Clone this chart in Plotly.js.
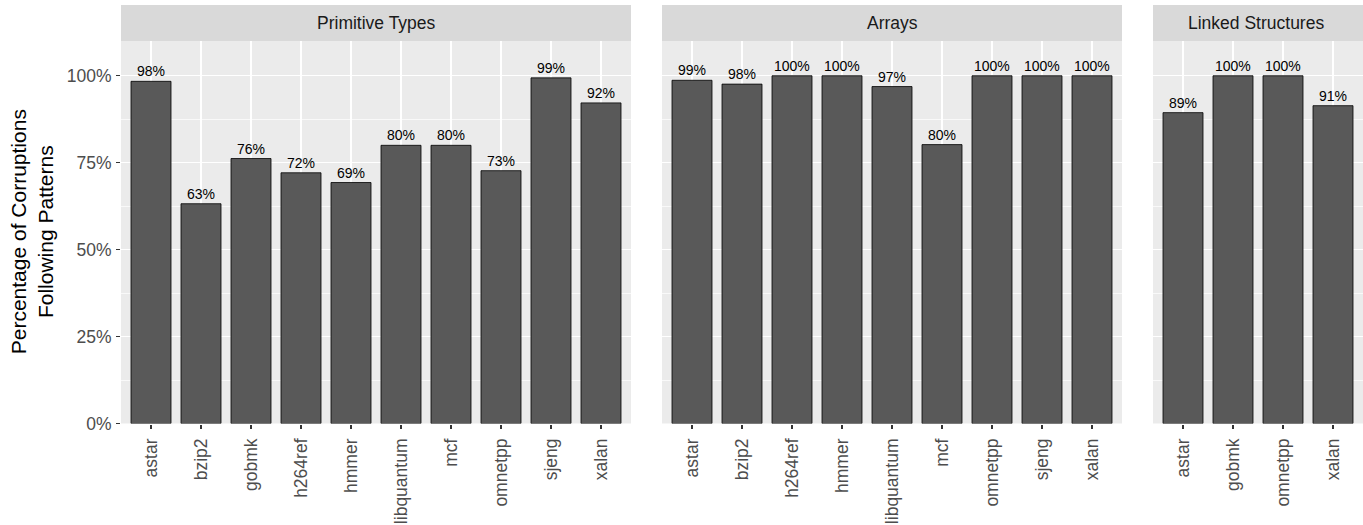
<!DOCTYPE html>
<html>
<head>
<meta charset="utf-8">
<script src="https://cdn.plot.ly/plotly-3.0.1.min.js"></script>
<style>
  html, body { margin: 0; padding: 0; background: #ffffff; }
  #chart { width: 1363px; height: 525px; }
</style>
</head>
<body>
<div id="chart"></div>
<script>
// Share of corruptions that follow a known pattern, per benchmark and data-structure kind
const panelTitles = ['Primitive Types', 'Arrays', 'Linked Structures'];

const categoriesPrimitive = ['astar', 'bzip2', 'gobmk', 'h264ref', 'hmmer', 'libquantum', 'mcf', 'omnetpp', 'sjeng', 'xalan'];
const valuesPrimitive = [98.4, 63.2, 76.2, 72.1, 69.3, 80.0, 80.0, 72.7, 99.4, 92.2];

const categoriesArrays = ['astar', 'bzip2', 'h264ref', 'hmmer', 'libquantum', 'mcf', 'omnetpp', 'sjeng', 'xalan'];
const valuesArrays = [98.7, 97.6, 100, 100, 96.9, 80.2, 100, 100, 100];

const categoriesLinked = ['astar', 'gobmk', 'omnetpp', 'xalan'];
const valuesLinked = [89.4, 100, 100, 91.4];

const yTickValues = [0, 25, 50, 75, 100];
const yTickLabels = ['0%', '25%', '50%', '75%', '100%'];
const yMinorValues = [12.5, 37.5, 62.5, 87.5];

// Page geometry (pixels)
const W = 1363, H = 525;
const FONT = 'Liberation Sans, Arial, Helvetica, sans-serif';
const plotTop = 41, plotBottom = 423.5, stripTop = 5;
const fx = p => p / W;
const fy = p => 1 - p / H;

const panels = [
  { cats: categoriesPrimitive, vals: valuesPrimitive, x0: 121, x1: 631, range: [-0.6, categoriesPrimitive.length - 0.4] },
  { cats: categoriesArrays, vals: valuesArrays, x0: 662, x1: 1122, range: [-0.6, categoriesArrays.length - 0.4] },
  { cats: categoriesLinked, vals: valuesLinked, x0: 1153, x1: 1363, range: [-0.6, 3.6] }
];

const traces = [];
const annotations = [];
const shapes = [];
const layout = {
  width: W, height: H,
  margin: { l: 0, r: 0, t: 0, b: 0 },
  paper_bgcolor: '#ffffff',
  plot_bgcolor: '#EBEBEB',
  showlegend: false,
  font: { family: FONT, color: '#000000' },
  bargap: 0.2
};

panels.forEach((p, i) => {
  const k = i === 0 ? '' : String(i + 1);
  const xRef = 'x' + k, yRef = 'y' + k;

  traces.push({
    type: 'bar',
    x: p.cats,
    y: p.vals,
    xaxis: xRef,
    yaxis: yRef,
    width: 0.8,
    marker: { color: '#595959', line: { color: '#000000', width: 0.8 } },
    hoverinfo: 'x+y'
  });

  layout['xaxis' + k] = {
    domain: [fx(p.x0), fx(p.x1)],
    anchor: yRef,
    type: 'category',
    categoryorder: 'array',
    categoryarray: p.cats,
    range: p.range,
    fixedrange: true,
    showgrid: true,
    gridcolor: '#ffffff',
    gridwidth: 1.4,
    zeroline: false,
    showline: false,
    ticks: 'outside',
    ticklen: 4,
    tickwidth: 1.1,
    tickcolor: '#333333',
    tickangle: -90,
    ticklabelstandoff: 3,
    tickfont: { family: FONT, size: 17.5, color: '#4D4D4D' },
    automargin: false
  };

  layout['yaxis' + k] = {
    domain: [fy(plotBottom), fy(plotTop)],
    anchor: xRef,
    range: [0, 110],
    fixedrange: true,
    tickmode: 'array',
    tickvals: yTickValues,
    ticktext: yTickLabels,
    showticklabels: i === 0,
    ticks: i === 0 ? 'outside' : '',
    ticklen: 4,
    tickwidth: 1.1,
    tickcolor: '#333333',
    ticklabelstandoff: 1,
    tickfont: { family: FONT, size: 17.5, color: '#4D4D4D' },
    showgrid: true,
    gridcolor: '#ffffff',
    gridwidth: 1.4,
    minor: { tickmode: 'array', tickvals: yMinorValues, showgrid: true, gridcolor: '#ffffff', gridwidth: 0.7, ticks: '' },
    zeroline: false,
    showline: false,
    automargin: false
  };

  // value labels above each bar
  p.cats.forEach((c, j) => {
    annotations.push({
      xref: xRef, yref: yRef,
      x: c, y: p.vals[j],
      text: Math.round(p.vals[j]) + '%',
      showarrow: false,
      yanchor: 'bottom',
      yshift: 0,
      font: { family: FONT, size: 14, color: '#000000' }
    });
  });

  // facet strip
  shapes.push({
    type: 'rect', xref: 'paper', yref: 'paper',
    x0: fx(p.x0), x1: fx(p.x1), y0: fy(plotTop), y1: fy(stripTop),
    fillcolor: '#D9D9D9', line: { width: 0 }, layer: 'below'
  });
  annotations.push({
    xref: 'paper', yref: 'paper',
    x: fx((p.x0 + (i === 2 ? 1358 : p.x1)) / 2), y: fy((plotTop + stripTop) / 2),
    text: panelTitles[i],
    showarrow: false,
    xanchor: 'center', yanchor: 'middle',
    font: { family: FONT, size: 17.5, color: '#1A1A1A' }
  });
});

// y axis title (two lines)
annotations.push({
  xref: 'paper', yref: 'paper',
  x: fx(32), y: fy((plotTop + plotBottom) / 2),
  text: 'Percentage of Corruptions<br>Following Patterns',
  showarrow: false,
  textangle: -90,
  xanchor: 'center', yanchor: 'middle',
  font: { family: FONT, size: 21, color: '#000000' }
});

layout.annotations = annotations;
layout.shapes = shapes;

Plotly.newPlot('chart', traces, layout, { staticPlot: true, displayModeBar: false });
</script>
</body>
</html>
